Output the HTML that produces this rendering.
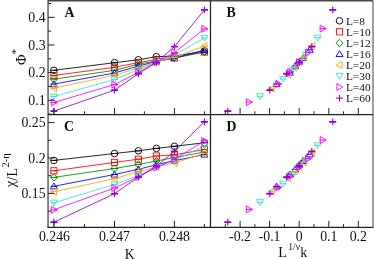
<!DOCTYPE html><html><head><meta charset="utf-8"><style>html,body{margin:0;padding:0;background:#fff;width:374px;height:259px;overflow:hidden}</style></head><body><svg width="374" height="259" viewBox="0 0 374 259" style="display:block;position:absolute;left:0;top:0;will-change:transform">
<rect width="374" height="259" fill="#fff"/>
<defs><clipPath id="ca"><rect x="48.05" y="0.75" width="162.45" height="113.75"/></clipPath><clipPath id="cc"><rect x="48.05" y="114.5" width="162.45" height="112.80000000000001"/></clipPath></defs>
<polyline points="53.9,70.3 114.5,62.7 138.4,59.8 156.4,56.7 174.4,56.1 204.4,51.1" fill="none" stroke="#000000" stroke-width="0.85"/>
<polyline points="53.9,75.5 114.5,67.3 138.4,62.6 156.4,59.5 174.4,57.3 204.4,52.0" fill="none" stroke="#ff0000" stroke-width="0.85"/>
<polyline points="53.9,79.2 114.5,70.3 138.4,64.2 156.4,60.9 174.4,58.1 204.4,52.0" fill="none" stroke="#008b00" stroke-width="0.85"/>
<polyline points="53.9,84.1 114.5,73.0 138.4,66.0 156.4,61.5 174.4,58.3 204.4,50.0" fill="none" stroke="#0000ff" stroke-width="0.85"/>
<polyline points="53.9,88.2 114.5,75.2 138.4,68.2 156.4,62.0 174.4,57.5 204.4,46.0" fill="none" stroke="#ffa500" stroke-width="0.85"/>
<polyline points="53.9,96.6 114.5,79.5 138.4,69.8 156.4,62.0 174.4,55.1 204.4,38.0" fill="none" stroke="#40e0d0" stroke-width="0.85"/>
<polyline points="53.9,102.5 114.5,84.5 138.4,72.3 156.4,62.1 174.4,52.7 204.4,28.9" fill="none" stroke="#ff00ff" stroke-width="0.85"/>
<polyline points="53.9,111.1 114.5,90.2 138.4,73.7 156.4,62.5 174.4,46.6 204.4,9.9" fill="none" stroke="#9400d3" stroke-width="0.85"/>
<circle cx="53.9" cy="70.3" r="3.3" fill="none" stroke="#000000" stroke-width="0.9"/><path d="M50.5 70.3H57.3" fill="none" stroke="#000000" stroke-width="1"/>
<circle cx="114.5" cy="62.7" r="3.3" fill="none" stroke="#000000" stroke-width="0.9"/><path d="M111.0 62.7H117.9" fill="none" stroke="#000000" stroke-width="1"/>
<circle cx="138.4" cy="59.8" r="3.3" fill="none" stroke="#000000" stroke-width="0.9"/><path d="M135.0 59.8H141.8" fill="none" stroke="#000000" stroke-width="1"/>
<circle cx="156.4" cy="56.7" r="3.3" fill="none" stroke="#000000" stroke-width="0.9"/><path d="M153.0 56.7H159.8" fill="none" stroke="#000000" stroke-width="1"/>
<circle cx="174.4" cy="56.1" r="3.3" fill="none" stroke="#000000" stroke-width="0.9"/><path d="M171.0 56.1H177.8" fill="none" stroke="#000000" stroke-width="1"/>
<circle cx="204.4" cy="51.1" r="3.3" fill="none" stroke="#000000" stroke-width="0.9"/><path d="M201.0 51.1H207.8" fill="none" stroke="#000000" stroke-width="1"/>
<rect x="50.8" y="72.4" width="6.2" height="6.2" fill="none" stroke="#ff0000" stroke-width="0.9"/><path d="M50.5 75.5H57.3" fill="none" stroke="#ff0000" stroke-width="1"/>
<rect x="111.4" y="64.2" width="6.2" height="6.2" fill="none" stroke="#ff0000" stroke-width="0.9"/><path d="M111.0 67.3H117.9" fill="none" stroke="#ff0000" stroke-width="1"/>
<rect x="135.3" y="59.5" width="6.2" height="6.2" fill="none" stroke="#ff0000" stroke-width="0.9"/><path d="M135.0 62.6H141.8" fill="none" stroke="#ff0000" stroke-width="1"/>
<rect x="153.3" y="56.4" width="6.2" height="6.2" fill="none" stroke="#ff0000" stroke-width="0.9"/><path d="M153.0 59.5H159.8" fill="none" stroke="#ff0000" stroke-width="1"/>
<rect x="171.3" y="54.2" width="6.2" height="6.2" fill="none" stroke="#ff0000" stroke-width="0.9"/><path d="M171.0 57.3H177.8" fill="none" stroke="#ff0000" stroke-width="1"/>
<rect x="201.3" y="48.9" width="6.2" height="6.2" fill="none" stroke="#ff0000" stroke-width="0.9"/><path d="M201.0 52.0H207.8" fill="none" stroke="#ff0000" stroke-width="1"/>
<path d="M50.3 79.2L53.9 75.6L57.5 79.2L53.9 82.8Z" fill="none" stroke="#008b00" stroke-width="0.9"/><path d="M50.5 79.2H57.3" fill="none" stroke="#008b00" stroke-width="1"/>
<path d="M110.9 70.3L114.5 66.7L118.0 70.3L114.5 73.9Z" fill="none" stroke="#008b00" stroke-width="0.9"/><path d="M111.0 70.3H117.9" fill="none" stroke="#008b00" stroke-width="1"/>
<path d="M134.8 64.2L138.4 60.6L142.0 64.2L138.4 67.8Z" fill="none" stroke="#008b00" stroke-width="0.9"/><path d="M135.0 64.2H141.8" fill="none" stroke="#008b00" stroke-width="1"/>
<path d="M152.8 60.9L156.4 57.3L160.0 60.9L156.4 64.5Z" fill="none" stroke="#008b00" stroke-width="0.9"/><path d="M153.0 60.9H159.8" fill="none" stroke="#008b00" stroke-width="1"/>
<path d="M170.8 58.1L174.4 54.5L178.0 58.1L174.4 61.7Z" fill="none" stroke="#008b00" stroke-width="0.9"/><path d="M171.0 58.1H177.8" fill="none" stroke="#008b00" stroke-width="1"/>
<path d="M200.8 52.0L204.4 48.4L208.0 52.0L204.4 55.6Z" fill="none" stroke="#008b00" stroke-width="0.9"/><path d="M201.0 52.0H207.8" fill="none" stroke="#008b00" stroke-width="1"/>
<path d="M50.4 86.7L57.4 86.7L53.9 80.8Z" fill="none" stroke="#0000ff" stroke-width="0.9"/><path d="M50.5 84.1H57.3" fill="none" stroke="#0000ff" stroke-width="1"/>
<path d="M111.0 75.6L118.0 75.6L114.5 69.7Z" fill="none" stroke="#0000ff" stroke-width="0.9"/><path d="M111.0 73.0H117.9" fill="none" stroke="#0000ff" stroke-width="1"/>
<path d="M134.9 68.6L141.9 68.6L138.4 62.7Z" fill="none" stroke="#0000ff" stroke-width="0.9"/><path d="M135.0 66.0H141.8" fill="none" stroke="#0000ff" stroke-width="1"/>
<path d="M152.9 64.1L159.9 64.1L156.4 58.2Z" fill="none" stroke="#0000ff" stroke-width="0.9"/><path d="M153.0 61.5H159.8" fill="none" stroke="#0000ff" stroke-width="1"/>
<path d="M170.9 60.9L177.9 60.9L174.4 55.0Z" fill="none" stroke="#0000ff" stroke-width="0.9"/><path d="M171.0 58.3H177.8" fill="none" stroke="#0000ff" stroke-width="1"/>
<path d="M200.9 52.6L207.9 52.6L204.4 46.7Z" fill="none" stroke="#0000ff" stroke-width="0.9"/><path d="M201.0 50.0H207.8" fill="none" stroke="#0000ff" stroke-width="1"/>
<path d="M56.5 84.7L56.5 91.7L50.6 88.2Z" fill="none" stroke="#ffa500" stroke-width="0.9"/><path d="M50.5 88.2H57.3" fill="none" stroke="#ffa500" stroke-width="1"/>
<path d="M117.0 71.7L117.0 78.7L111.2 75.2Z" fill="none" stroke="#ffa500" stroke-width="0.9"/><path d="M111.0 75.2H117.9" fill="none" stroke="#ffa500" stroke-width="1"/>
<path d="M141.0 64.7L141.0 71.7L135.1 68.2Z" fill="none" stroke="#ffa500" stroke-width="0.9"/><path d="M135.0 68.2H141.8" fill="none" stroke="#ffa500" stroke-width="1"/>
<path d="M159.0 58.5L159.0 65.5L153.1 62.0Z" fill="none" stroke="#ffa500" stroke-width="0.9"/><path d="M153.0 62.0H159.8" fill="none" stroke="#ffa500" stroke-width="1"/>
<path d="M177.0 54.0L177.0 61.0L171.1 57.5Z" fill="none" stroke="#ffa500" stroke-width="0.9"/><path d="M171.0 57.5H177.8" fill="none" stroke="#ffa500" stroke-width="1"/>
<path d="M207.0 42.5L207.0 49.5L201.1 46.0Z" fill="none" stroke="#ffa500" stroke-width="0.9"/><path d="M201.0 46.0H207.8" fill="none" stroke="#ffa500" stroke-width="1"/>
<path d="M50.4 94.0L57.4 94.0L53.9 99.9Z" fill="none" stroke="#40e0d0" stroke-width="0.9"/><path d="M50.5 96.6H57.3" fill="none" stroke="#40e0d0" stroke-width="1"/>
<path d="M111.0 76.9L118.0 76.9L114.5 82.8Z" fill="none" stroke="#40e0d0" stroke-width="0.9"/><path d="M111.0 79.5H117.9" fill="none" stroke="#40e0d0" stroke-width="1"/>
<path d="M134.9 67.2L141.9 67.2L138.4 73.1Z" fill="none" stroke="#40e0d0" stroke-width="0.9"/><path d="M135.0 69.8H141.8" fill="none" stroke="#40e0d0" stroke-width="1"/>
<path d="M152.9 59.4L159.9 59.4L156.4 65.3Z" fill="none" stroke="#40e0d0" stroke-width="0.9"/><path d="M153.0 62.0H159.8" fill="none" stroke="#40e0d0" stroke-width="1"/>
<path d="M170.9 52.5L177.9 52.5L174.4 58.4Z" fill="none" stroke="#40e0d0" stroke-width="0.9"/><path d="M171.0 55.1H177.8" fill="none" stroke="#40e0d0" stroke-width="1"/>
<path d="M200.9 35.4L207.9 35.4L204.4 41.3Z" fill="none" stroke="#40e0d0" stroke-width="0.9"/><path d="M201.0 38.0H207.8" fill="none" stroke="#40e0d0" stroke-width="1"/>
<path d="M51.3 99.0L51.3 106.0L57.2 102.5Z" fill="none" stroke="#ff00ff" stroke-width="0.9"/><path d="M50.5 102.5H57.3" fill="none" stroke="#ff00ff" stroke-width="1"/>
<path d="M111.9 81.0L111.9 88.0L117.8 84.5Z" fill="none" stroke="#ff00ff" stroke-width="0.9"/><path d="M111.0 84.5H117.9" fill="none" stroke="#ff00ff" stroke-width="1"/>
<path d="M135.8 68.8L135.8 75.8L141.8 72.3Z" fill="none" stroke="#ff00ff" stroke-width="0.9"/><path d="M135.0 72.3H141.8" fill="none" stroke="#ff00ff" stroke-width="1"/>
<path d="M153.8 58.6L153.8 65.6L159.8 62.1Z" fill="none" stroke="#ff00ff" stroke-width="0.9"/><path d="M153.0 62.1H159.8" fill="none" stroke="#ff00ff" stroke-width="1"/>
<path d="M171.8 49.2L171.8 56.2L177.8 52.7Z" fill="none" stroke="#ff00ff" stroke-width="0.9"/><path d="M171.0 52.7H177.8" fill="none" stroke="#ff00ff" stroke-width="1"/>
<path d="M201.8 25.4L201.8 32.4L207.8 28.9Z" fill="none" stroke="#ff00ff" stroke-width="0.9"/><path d="M201.0 28.9H207.8" fill="none" stroke="#ff00ff" stroke-width="1"/>
<path d="M50.5 111.1H57.3" fill="none" stroke="#9400d3" stroke-width="1.7"/><path d="M53.9 107.7V114.5" fill="none" stroke="#9400d3" stroke-width="1.1"/><path d="M50.5 111.1H57.3" fill="none" stroke="#9400d3" stroke-width="1"/>
<path d="M111.0 90.2H117.9" fill="none" stroke="#9400d3" stroke-width="1.7"/><path d="M114.5 86.8V93.6" fill="none" stroke="#9400d3" stroke-width="1.1"/><path d="M111.0 90.2H117.9" fill="none" stroke="#9400d3" stroke-width="1"/>
<path d="M135.0 73.7H141.8" fill="none" stroke="#9400d3" stroke-width="1.7"/><path d="M138.4 70.3V77.1" fill="none" stroke="#9400d3" stroke-width="1.1"/><path d="M135.0 73.7H141.8" fill="none" stroke="#9400d3" stroke-width="1"/>
<path d="M153.0 62.5H159.8" fill="none" stroke="#9400d3" stroke-width="1.7"/><path d="M156.4 59.1V65.9" fill="none" stroke="#9400d3" stroke-width="1.1"/><path d="M153.0 62.5H159.8" fill="none" stroke="#9400d3" stroke-width="1"/>
<path d="M171.0 46.6H177.8" fill="none" stroke="#9400d3" stroke-width="1.7"/><path d="M174.4 43.2V50.0" fill="none" stroke="#9400d3" stroke-width="1.1"/><path d="M171.0 46.6H177.8" fill="none" stroke="#9400d3" stroke-width="1"/>
<path d="M201.0 9.9H207.8" fill="none" stroke="#9400d3" stroke-width="1.7"/><path d="M204.4 6.5V13.3" fill="none" stroke="#9400d3" stroke-width="1.1"/><path d="M201.0 9.9H207.8" fill="none" stroke="#9400d3" stroke-width="1"/>
<polyline points="53.9,160.4 114.5,153.5 138.4,150.8 156.4,148.4 174.4,146.3 204.4,142.8" fill="none" stroke="#000000" stroke-width="0.85"/>
<polyline points="53.9,170.8 114.5,162.4 138.4,159.2 156.4,156.0 174.4,154.9 204.4,149.5" fill="none" stroke="#ff0000" stroke-width="0.85"/>
<polyline points="53.9,177.4 114.5,168.5 138.4,164.4 156.4,161.0 174.4,157.5 204.4,152.0" fill="none" stroke="#008b00" stroke-width="0.85"/>
<polyline points="53.9,186.3 114.5,174.5 138.4,169.3 156.4,164.7 174.4,160.8 204.4,154.5" fill="none" stroke="#0000ff" stroke-width="0.85"/>
<polyline points="53.9,191.7 114.5,178.7 138.4,171.5 156.4,167.0 174.4,163.0 204.4,153.3" fill="none" stroke="#ffa500" stroke-width="0.85"/>
<polyline points="53.9,202.7 114.5,184.5 138.4,175.7 156.4,167.5 174.4,160.5 204.4,145.9" fill="none" stroke="#40e0d0" stroke-width="0.85"/>
<polyline points="53.9,209.8 114.5,188.0 138.4,176.8 156.4,167.5 174.4,159.3 204.4,141.0" fill="none" stroke="#ff00ff" stroke-width="0.85"/>
<polyline points="53.9,222.2 114.5,193.7 138.4,177.2 156.4,166.1 174.4,151.4 204.4,121.8" fill="none" stroke="#9400d3" stroke-width="0.85"/>
<circle cx="53.9" cy="160.4" r="3.3" fill="none" stroke="#000000" stroke-width="0.9"/><path d="M50.5 160.4H57.3" fill="none" stroke="#000000" stroke-width="1"/>
<circle cx="114.5" cy="153.5" r="3.3" fill="none" stroke="#000000" stroke-width="0.9"/><path d="M111.0 153.5H117.9" fill="none" stroke="#000000" stroke-width="1"/>
<circle cx="138.4" cy="150.8" r="3.3" fill="none" stroke="#000000" stroke-width="0.9"/><path d="M135.0 150.8H141.8" fill="none" stroke="#000000" stroke-width="1"/>
<circle cx="156.4" cy="148.4" r="3.3" fill="none" stroke="#000000" stroke-width="0.9"/><path d="M153.0 148.4H159.8" fill="none" stroke="#000000" stroke-width="1"/>
<circle cx="174.4" cy="146.3" r="3.3" fill="none" stroke="#000000" stroke-width="0.9"/><path d="M171.0 146.3H177.8" fill="none" stroke="#000000" stroke-width="1"/>
<circle cx="204.4" cy="142.8" r="3.3" fill="none" stroke="#000000" stroke-width="0.9"/><path d="M201.0 142.8H207.8" fill="none" stroke="#000000" stroke-width="1"/>
<rect x="50.8" y="167.7" width="6.2" height="6.2" fill="none" stroke="#ff0000" stroke-width="0.9"/><path d="M50.5 170.8H57.3" fill="none" stroke="#ff0000" stroke-width="1"/>
<rect x="111.4" y="159.3" width="6.2" height="6.2" fill="none" stroke="#ff0000" stroke-width="0.9"/><path d="M111.0 162.4H117.9" fill="none" stroke="#ff0000" stroke-width="1"/>
<rect x="135.3" y="156.1" width="6.2" height="6.2" fill="none" stroke="#ff0000" stroke-width="0.9"/><path d="M135.0 159.2H141.8" fill="none" stroke="#ff0000" stroke-width="1"/>
<rect x="153.3" y="152.9" width="6.2" height="6.2" fill="none" stroke="#ff0000" stroke-width="0.9"/><path d="M153.0 156.0H159.8" fill="none" stroke="#ff0000" stroke-width="1"/>
<rect x="171.3" y="151.8" width="6.2" height="6.2" fill="none" stroke="#ff0000" stroke-width="0.9"/><path d="M171.0 154.9H177.8" fill="none" stroke="#ff0000" stroke-width="1"/>
<rect x="201.3" y="146.4" width="6.2" height="6.2" fill="none" stroke="#ff0000" stroke-width="0.9"/><path d="M201.0 149.5H207.8" fill="none" stroke="#ff0000" stroke-width="1"/>
<path d="M50.3 177.4L53.9 173.8L57.5 177.4L53.9 181.0Z" fill="none" stroke="#008b00" stroke-width="0.9"/><path d="M50.5 177.4H57.3" fill="none" stroke="#008b00" stroke-width="1"/>
<path d="M110.9 168.5L114.5 164.9L118.0 168.5L114.5 172.1Z" fill="none" stroke="#008b00" stroke-width="0.9"/><path d="M111.0 168.5H117.9" fill="none" stroke="#008b00" stroke-width="1"/>
<path d="M134.8 164.4L138.4 160.8L142.0 164.4L138.4 168.0Z" fill="none" stroke="#008b00" stroke-width="0.9"/><path d="M135.0 164.4H141.8" fill="none" stroke="#008b00" stroke-width="1"/>
<path d="M152.8 161.0L156.4 157.4L160.0 161.0L156.4 164.6Z" fill="none" stroke="#008b00" stroke-width="0.9"/><path d="M153.0 161.0H159.8" fill="none" stroke="#008b00" stroke-width="1"/>
<path d="M170.8 157.5L174.4 153.9L178.0 157.5L174.4 161.1Z" fill="none" stroke="#008b00" stroke-width="0.9"/><path d="M171.0 157.5H177.8" fill="none" stroke="#008b00" stroke-width="1"/>
<path d="M200.8 152.0L204.4 148.4L208.0 152.0L204.4 155.6Z" fill="none" stroke="#008b00" stroke-width="0.9"/><path d="M201.0 152.0H207.8" fill="none" stroke="#008b00" stroke-width="1"/>
<path d="M50.4 188.9L57.4 188.9L53.9 183.0Z" fill="none" stroke="#0000ff" stroke-width="0.9"/><path d="M50.5 186.3H57.3" fill="none" stroke="#0000ff" stroke-width="1"/>
<path d="M111.0 177.1L118.0 177.1L114.5 171.2Z" fill="none" stroke="#0000ff" stroke-width="0.9"/><path d="M111.0 174.5H117.9" fill="none" stroke="#0000ff" stroke-width="1"/>
<path d="M134.9 171.9L141.9 171.9L138.4 166.0Z" fill="none" stroke="#0000ff" stroke-width="0.9"/><path d="M135.0 169.3H141.8" fill="none" stroke="#0000ff" stroke-width="1"/>
<path d="M152.9 167.3L159.9 167.3L156.4 161.4Z" fill="none" stroke="#0000ff" stroke-width="0.9"/><path d="M153.0 164.7H159.8" fill="none" stroke="#0000ff" stroke-width="1"/>
<path d="M170.9 163.4L177.9 163.4L174.4 157.5Z" fill="none" stroke="#0000ff" stroke-width="0.9"/><path d="M171.0 160.8H177.8" fill="none" stroke="#0000ff" stroke-width="1"/>
<path d="M200.9 157.1L207.9 157.1L204.4 151.2Z" fill="none" stroke="#0000ff" stroke-width="0.9"/><path d="M201.0 154.5H207.8" fill="none" stroke="#0000ff" stroke-width="1"/>
<path d="M56.5 188.2L56.5 195.2L50.6 191.7Z" fill="none" stroke="#ffa500" stroke-width="0.9"/><path d="M50.5 191.7H57.3" fill="none" stroke="#ffa500" stroke-width="1"/>
<path d="M117.0 175.2L117.0 182.2L111.2 178.7Z" fill="none" stroke="#ffa500" stroke-width="0.9"/><path d="M111.0 178.7H117.9" fill="none" stroke="#ffa500" stroke-width="1"/>
<path d="M141.0 168.0L141.0 175.0L135.1 171.5Z" fill="none" stroke="#ffa500" stroke-width="0.9"/><path d="M135.0 171.5H141.8" fill="none" stroke="#ffa500" stroke-width="1"/>
<path d="M159.0 163.5L159.0 170.5L153.1 167.0Z" fill="none" stroke="#ffa500" stroke-width="0.9"/><path d="M153.0 167.0H159.8" fill="none" stroke="#ffa500" stroke-width="1"/>
<path d="M177.0 159.5L177.0 166.5L171.1 163.0Z" fill="none" stroke="#ffa500" stroke-width="0.9"/><path d="M171.0 163.0H177.8" fill="none" stroke="#ffa500" stroke-width="1"/>
<path d="M207.0 149.8L207.0 156.8L201.1 153.3Z" fill="none" stroke="#ffa500" stroke-width="0.9"/><path d="M201.0 153.3H207.8" fill="none" stroke="#ffa500" stroke-width="1"/>
<path d="M50.4 200.1L57.4 200.1L53.9 206.0Z" fill="none" stroke="#40e0d0" stroke-width="0.9"/><path d="M50.5 202.7H57.3" fill="none" stroke="#40e0d0" stroke-width="1"/>
<path d="M111.0 181.9L118.0 181.9L114.5 187.8Z" fill="none" stroke="#40e0d0" stroke-width="0.9"/><path d="M111.0 184.5H117.9" fill="none" stroke="#40e0d0" stroke-width="1"/>
<path d="M134.9 173.1L141.9 173.1L138.4 179.0Z" fill="none" stroke="#40e0d0" stroke-width="0.9"/><path d="M135.0 175.7H141.8" fill="none" stroke="#40e0d0" stroke-width="1"/>
<path d="M152.9 164.9L159.9 164.9L156.4 170.8Z" fill="none" stroke="#40e0d0" stroke-width="0.9"/><path d="M153.0 167.5H159.8" fill="none" stroke="#40e0d0" stroke-width="1"/>
<path d="M170.9 157.9L177.9 157.9L174.4 163.8Z" fill="none" stroke="#40e0d0" stroke-width="0.9"/><path d="M171.0 160.5H177.8" fill="none" stroke="#40e0d0" stroke-width="1"/>
<path d="M200.9 143.3L207.9 143.3L204.4 149.2Z" fill="none" stroke="#40e0d0" stroke-width="0.9"/><path d="M201.0 145.9H207.8" fill="none" stroke="#40e0d0" stroke-width="1"/>
<path d="M51.3 206.3L51.3 213.3L57.2 209.8Z" fill="none" stroke="#ff00ff" stroke-width="0.9"/><path d="M50.5 209.8H57.3" fill="none" stroke="#ff00ff" stroke-width="1"/>
<path d="M111.9 184.5L111.9 191.5L117.8 188.0Z" fill="none" stroke="#ff00ff" stroke-width="0.9"/><path d="M111.0 188.0H117.9" fill="none" stroke="#ff00ff" stroke-width="1"/>
<path d="M135.8 173.3L135.8 180.3L141.8 176.8Z" fill="none" stroke="#ff00ff" stroke-width="0.9"/><path d="M135.0 176.8H141.8" fill="none" stroke="#ff00ff" stroke-width="1"/>
<path d="M153.8 164.0L153.8 171.0L159.8 167.5Z" fill="none" stroke="#ff00ff" stroke-width="0.9"/><path d="M153.0 167.5H159.8" fill="none" stroke="#ff00ff" stroke-width="1"/>
<path d="M171.8 155.8L171.8 162.8L177.8 159.3Z" fill="none" stroke="#ff00ff" stroke-width="0.9"/><path d="M171.0 159.3H177.8" fill="none" stroke="#ff00ff" stroke-width="1"/>
<path d="M201.8 137.5L201.8 144.5L207.8 141.0Z" fill="none" stroke="#ff00ff" stroke-width="0.9"/><path d="M201.0 141.0H207.8" fill="none" stroke="#ff00ff" stroke-width="1"/>
<path d="M50.5 222.2H57.3" fill="none" stroke="#9400d3" stroke-width="1.7"/><path d="M53.9 218.8V225.6" fill="none" stroke="#9400d3" stroke-width="1.1"/><path d="M50.5 222.2H57.3" fill="none" stroke="#9400d3" stroke-width="1"/>
<path d="M111.0 193.7H117.9" fill="none" stroke="#9400d3" stroke-width="1.7"/><path d="M114.5 190.3V197.1" fill="none" stroke="#9400d3" stroke-width="1.1"/><path d="M111.0 193.7H117.9" fill="none" stroke="#9400d3" stroke-width="1"/>
<path d="M135.0 177.2H141.8" fill="none" stroke="#9400d3" stroke-width="1.7"/><path d="M138.4 173.8V180.6" fill="none" stroke="#9400d3" stroke-width="1.1"/><path d="M135.0 177.2H141.8" fill="none" stroke="#9400d3" stroke-width="1"/>
<path d="M153.0 166.1H159.8" fill="none" stroke="#9400d3" stroke-width="1.7"/><path d="M156.4 162.7V169.5" fill="none" stroke="#9400d3" stroke-width="1.1"/><path d="M153.0 166.1H159.8" fill="none" stroke="#9400d3" stroke-width="1"/>
<path d="M171.0 151.4H177.8" fill="none" stroke="#9400d3" stroke-width="1.7"/><path d="M174.4 148.0V154.8" fill="none" stroke="#9400d3" stroke-width="1.1"/><path d="M171.0 151.4H177.8" fill="none" stroke="#9400d3" stroke-width="1"/>
<path d="M201.0 121.8H207.8" fill="none" stroke="#9400d3" stroke-width="1.7"/><path d="M204.4 118.4V125.2" fill="none" stroke="#9400d3" stroke-width="1.1"/><path d="M201.0 121.8H207.8" fill="none" stroke="#9400d3" stroke-width="1"/>
<path d="M273.1 86.6L280.1 86.6L276.6 80.7Z" fill="none" stroke="#0000ff" stroke-width="0.9"/><path d="M273.2 84.0H280.0" fill="none" stroke="#0000ff" stroke-width="1"/>
<path d="M286.4 75.2L293.4 75.2L289.9 69.3Z" fill="none" stroke="#0000ff" stroke-width="0.9"/><path d="M286.5 72.6H293.3" fill="none" stroke="#0000ff" stroke-width="1"/>
<path d="M291.7 68.6L298.7 68.6L295.2 62.7Z" fill="none" stroke="#0000ff" stroke-width="0.9"/><path d="M291.8 66.0H298.6" fill="none" stroke="#0000ff" stroke-width="1"/>
<path d="M295.7 64.3L302.7 64.3L299.2 58.4Z" fill="none" stroke="#0000ff" stroke-width="0.9"/><path d="M295.8 61.7H302.6" fill="none" stroke="#0000ff" stroke-width="1"/>
<path d="M299.7 60.7L306.7 60.7L303.2 54.8Z" fill="none" stroke="#0000ff" stroke-width="0.9"/><path d="M299.8 58.1H306.6" fill="none" stroke="#0000ff" stroke-width="1"/>
<path d="M306.3 52.4L313.3 52.4L309.8 46.5Z" fill="none" stroke="#0000ff" stroke-width="0.9"/><path d="M306.4 49.8H313.2" fill="none" stroke="#0000ff" stroke-width="1"/>
<path d="M274.3 84.7L274.3 91.7L268.4 88.2Z" fill="none" stroke="#ffa500" stroke-width="0.9"/><path d="M268.3 88.2H275.1" fill="none" stroke="#ffa500" stroke-width="1"/>
<path d="M290.5 71.2L290.5 78.2L284.6 74.7Z" fill="none" stroke="#ffa500" stroke-width="0.9"/><path d="M284.5 74.7H291.3" fill="none" stroke="#ffa500" stroke-width="1"/>
<path d="M297.0 64.4L297.0 71.4L291.1 67.9Z" fill="none" stroke="#ffa500" stroke-width="0.9"/><path d="M291.0 67.9H297.8" fill="none" stroke="#ffa500" stroke-width="1"/>
<path d="M301.8 58.6L301.8 65.6L295.9 62.1Z" fill="none" stroke="#ffa500" stroke-width="0.9"/><path d="M295.8 62.1H302.6" fill="none" stroke="#ffa500" stroke-width="1"/>
<path d="M306.6 53.8L306.6 60.8L300.7 57.3Z" fill="none" stroke="#ffa500" stroke-width="0.9"/><path d="M300.6 57.3H307.4" fill="none" stroke="#ffa500" stroke-width="1"/>
<path d="M314.7 42.5L314.7 49.5L308.8 46.0Z" fill="none" stroke="#ffa500" stroke-width="0.9"/><path d="M308.7 46.0H315.5" fill="none" stroke="#ffa500" stroke-width="1"/>
<path d="M256.6 93.7L263.6 93.7L260.1 99.6Z" fill="none" stroke="#40e0d0" stroke-width="0.9"/><path d="M256.7 96.3H263.5" fill="none" stroke="#40e0d0" stroke-width="1"/>
<path d="M279.6 76.4L286.6 76.4L283.1 82.3Z" fill="none" stroke="#40e0d0" stroke-width="0.9"/><path d="M279.7 79.0H286.5" fill="none" stroke="#40e0d0" stroke-width="1"/>
<path d="M288.8 67.0L295.8 67.0L292.3 72.9Z" fill="none" stroke="#40e0d0" stroke-width="0.9"/><path d="M288.9 69.6H295.7" fill="none" stroke="#40e0d0" stroke-width="1"/>
<path d="M295.7 59.5L302.7 59.5L299.2 65.4Z" fill="none" stroke="#40e0d0" stroke-width="0.9"/><path d="M295.8 62.1H302.6" fill="none" stroke="#40e0d0" stroke-width="1"/>
<path d="M302.6 52.2L309.6 52.2L306.1 58.1Z" fill="none" stroke="#40e0d0" stroke-width="0.9"/><path d="M302.7 54.8H309.5" fill="none" stroke="#40e0d0" stroke-width="1"/>
<path d="M314.1 35.1L321.1 35.1L317.6 41.0Z" fill="none" stroke="#40e0d0" stroke-width="0.9"/><path d="M314.2 37.7H321.0" fill="none" stroke="#40e0d0" stroke-width="1"/>
<path d="M246.4 98.6L246.4 105.6L252.3 102.1Z" fill="none" stroke="#ff00ff" stroke-width="0.9"/><path d="M245.6 102.1H252.4" fill="none" stroke="#ff00ff" stroke-width="1"/>
<path d="M275.9 80.4L275.9 87.4L281.8 83.9Z" fill="none" stroke="#ff00ff" stroke-width="0.9"/><path d="M275.1 83.9H281.9" fill="none" stroke="#ff00ff" stroke-width="1"/>
<path d="M287.7 68.4L287.7 75.4L293.6 71.9Z" fill="none" stroke="#ff00ff" stroke-width="0.9"/><path d="M286.9 71.9H293.7" fill="none" stroke="#ff00ff" stroke-width="1"/>
<path d="M296.6 58.7L296.6 65.7L302.5 62.2Z" fill="none" stroke="#ff00ff" stroke-width="0.9"/><path d="M295.8 62.2H302.6" fill="none" stroke="#ff00ff" stroke-width="1"/>
<path d="M305.5 48.9L305.5 55.9L311.4 52.4Z" fill="none" stroke="#ff00ff" stroke-width="0.9"/><path d="M304.7 52.4H311.5" fill="none" stroke="#ff00ff" stroke-width="1"/>
<path d="M320.2 25.1L320.2 32.1L326.1 28.6Z" fill="none" stroke="#ff00ff" stroke-width="0.9"/><path d="M319.4 28.6H326.2" fill="none" stroke="#ff00ff" stroke-width="1"/>
<path d="M224.4 111.1H231.2" fill="none" stroke="#9400d3" stroke-width="1.7"/><path d="M227.8 107.7V114.5" fill="none" stroke="#9400d3" stroke-width="1.1"/><path d="M224.4 111.1H231.2" fill="none" stroke="#9400d3" stroke-width="1"/>
<path d="M266.4 90.2H273.2" fill="none" stroke="#9400d3" stroke-width="1.7"/><path d="M269.8 86.8V93.6" fill="none" stroke="#9400d3" stroke-width="1.1"/><path d="M266.4 90.2H273.2" fill="none" stroke="#9400d3" stroke-width="1"/>
<path d="M283.2 73.7H290.0" fill="none" stroke="#9400d3" stroke-width="1.7"/><path d="M286.6 70.3V77.1" fill="none" stroke="#9400d3" stroke-width="1.1"/><path d="M283.2 73.7H290.0" fill="none" stroke="#9400d3" stroke-width="1"/>
<path d="M295.8 62.5H302.6" fill="none" stroke="#9400d3" stroke-width="1.7"/><path d="M299.2 59.1V65.9" fill="none" stroke="#9400d3" stroke-width="1.1"/><path d="M295.8 62.5H302.6" fill="none" stroke="#9400d3" stroke-width="1"/>
<path d="M308.4 46.6H315.2" fill="none" stroke="#9400d3" stroke-width="1.7"/><path d="M311.8 43.2V50.0" fill="none" stroke="#9400d3" stroke-width="1.1"/><path d="M308.4 46.6H315.2" fill="none" stroke="#9400d3" stroke-width="1"/>
<path d="M329.4 9.9H336.2" fill="none" stroke="#9400d3" stroke-width="1.7"/><path d="M332.8 6.5V13.3" fill="none" stroke="#9400d3" stroke-width="1.1"/><path d="M329.4 9.9H336.2" fill="none" stroke="#9400d3" stroke-width="1"/>
<path d="M273.1 189.0L280.1 189.0L276.6 183.1Z" fill="none" stroke="#0000ff" stroke-width="0.9"/><path d="M273.2 186.4H280.0" fill="none" stroke="#0000ff" stroke-width="1"/>
<path d="M286.4 177.1L293.4 177.1L289.9 171.2Z" fill="none" stroke="#0000ff" stroke-width="0.9"/><path d="M286.5 174.5H293.3" fill="none" stroke="#0000ff" stroke-width="1"/>
<path d="M291.7 172.0L298.7 172.0L295.2 166.1Z" fill="none" stroke="#0000ff" stroke-width="0.9"/><path d="M291.8 169.4H298.6" fill="none" stroke="#0000ff" stroke-width="1"/>
<path d="M295.7 167.6L302.7 167.6L299.2 161.7Z" fill="none" stroke="#0000ff" stroke-width="0.9"/><path d="M295.8 165.0H302.6" fill="none" stroke="#0000ff" stroke-width="1"/>
<path d="M299.7 163.5L306.7 163.5L303.2 157.6Z" fill="none" stroke="#0000ff" stroke-width="0.9"/><path d="M299.8 160.9H306.6" fill="none" stroke="#0000ff" stroke-width="1"/>
<path d="M306.3 156.9L313.3 156.9L309.8 151.0Z" fill="none" stroke="#0000ff" stroke-width="0.9"/><path d="M306.4 154.3H313.2" fill="none" stroke="#0000ff" stroke-width="1"/>
<path d="M274.3 188.2L274.3 195.2L268.4 191.7Z" fill="none" stroke="#ffa500" stroke-width="0.9"/><path d="M268.3 191.7H275.1" fill="none" stroke="#ffa500" stroke-width="1"/>
<path d="M290.5 174.7L290.5 181.7L284.6 178.2Z" fill="none" stroke="#ffa500" stroke-width="0.9"/><path d="M284.5 178.2H291.3" fill="none" stroke="#ffa500" stroke-width="1"/>
<path d="M297.0 167.8L297.0 174.8L291.1 171.3Z" fill="none" stroke="#ffa500" stroke-width="0.9"/><path d="M291.0 171.3H297.8" fill="none" stroke="#ffa500" stroke-width="1"/>
<path d="M301.8 163.3L301.8 170.3L295.9 166.8Z" fill="none" stroke="#ffa500" stroke-width="0.9"/><path d="M295.8 166.8H302.6" fill="none" stroke="#ffa500" stroke-width="1"/>
<path d="M306.6 159.0L306.6 166.0L300.7 162.5Z" fill="none" stroke="#ffa500" stroke-width="0.9"/><path d="M300.6 162.5H307.4" fill="none" stroke="#ffa500" stroke-width="1"/>
<path d="M314.7 149.3L314.7 156.3L308.8 152.8Z" fill="none" stroke="#ffa500" stroke-width="0.9"/><path d="M308.7 152.8H315.5" fill="none" stroke="#ffa500" stroke-width="1"/>
<path d="M256.6 199.6L263.6 199.6L260.1 205.5Z" fill="none" stroke="#40e0d0" stroke-width="0.9"/><path d="M256.7 202.2H263.5" fill="none" stroke="#40e0d0" stroke-width="1"/>
<path d="M279.6 181.1L286.6 181.1L283.1 187.0Z" fill="none" stroke="#40e0d0" stroke-width="0.9"/><path d="M279.7 183.7H286.5" fill="none" stroke="#40e0d0" stroke-width="1"/>
<path d="M288.8 172.4L295.8 172.4L292.3 178.3Z" fill="none" stroke="#40e0d0" stroke-width="0.9"/><path d="M288.9 175.0H295.7" fill="none" stroke="#40e0d0" stroke-width="1"/>
<path d="M295.7 164.6L302.7 164.6L299.2 170.5Z" fill="none" stroke="#40e0d0" stroke-width="0.9"/><path d="M295.8 167.2H302.6" fill="none" stroke="#40e0d0" stroke-width="1"/>
<path d="M302.6 157.4L309.6 157.4L306.1 163.3Z" fill="none" stroke="#40e0d0" stroke-width="0.9"/><path d="M302.7 160.0H309.5" fill="none" stroke="#40e0d0" stroke-width="1"/>
<path d="M314.1 142.8L321.1 142.8L317.6 148.7Z" fill="none" stroke="#40e0d0" stroke-width="0.9"/><path d="M314.2 145.4H321.0" fill="none" stroke="#40e0d0" stroke-width="1"/>
<path d="M246.4 205.9L246.4 212.9L252.3 209.4Z" fill="none" stroke="#ff00ff" stroke-width="0.9"/><path d="M245.6 209.4H252.4" fill="none" stroke="#ff00ff" stroke-width="1"/>
<path d="M275.9 183.9L275.9 190.9L281.8 187.4Z" fill="none" stroke="#ff00ff" stroke-width="0.9"/><path d="M275.1 187.4H281.9" fill="none" stroke="#ff00ff" stroke-width="1"/>
<path d="M287.7 172.7L287.7 179.7L293.6 176.2Z" fill="none" stroke="#ff00ff" stroke-width="0.9"/><path d="M286.9 176.2H293.7" fill="none" stroke="#ff00ff" stroke-width="1"/>
<path d="M296.6 163.7L296.6 170.7L302.5 167.2Z" fill="none" stroke="#ff00ff" stroke-width="0.9"/><path d="M295.8 167.2H302.6" fill="none" stroke="#ff00ff" stroke-width="1"/>
<path d="M305.5 155.1L305.5 162.1L311.4 158.6Z" fill="none" stroke="#ff00ff" stroke-width="0.9"/><path d="M304.7 158.6H311.5" fill="none" stroke="#ff00ff" stroke-width="1"/>
<path d="M320.2 136.5L320.2 143.5L326.1 140.0Z" fill="none" stroke="#ff00ff" stroke-width="0.9"/><path d="M319.4 140.0H326.2" fill="none" stroke="#ff00ff" stroke-width="1"/>
<path d="M224.4 222.2H231.2" fill="none" stroke="#9400d3" stroke-width="1.7"/><path d="M227.8 218.8V225.6" fill="none" stroke="#9400d3" stroke-width="1.1"/><path d="M224.4 222.2H231.2" fill="none" stroke="#9400d3" stroke-width="1"/>
<path d="M266.4 193.7H273.2" fill="none" stroke="#9400d3" stroke-width="1.7"/><path d="M269.8 190.3V197.1" fill="none" stroke="#9400d3" stroke-width="1.1"/><path d="M266.4 193.7H273.2" fill="none" stroke="#9400d3" stroke-width="1"/>
<path d="M283.2 177.2H290.0" fill="none" stroke="#9400d3" stroke-width="1.7"/><path d="M286.6 173.8V180.6" fill="none" stroke="#9400d3" stroke-width="1.1"/><path d="M283.2 177.2H290.0" fill="none" stroke="#9400d3" stroke-width="1"/>
<path d="M295.8 166.1H302.6" fill="none" stroke="#9400d3" stroke-width="1.7"/><path d="M299.2 162.7V169.5" fill="none" stroke="#9400d3" stroke-width="1.1"/><path d="M295.8 166.1H302.6" fill="none" stroke="#9400d3" stroke-width="1"/>
<path d="M308.4 151.4H315.2" fill="none" stroke="#9400d3" stroke-width="1.7"/><path d="M311.8 148.0V154.8" fill="none" stroke="#9400d3" stroke-width="1.1"/><path d="M308.4 151.4H315.2" fill="none" stroke="#9400d3" stroke-width="1"/>
<path d="M329.4 121.8H336.2" fill="none" stroke="#9400d3" stroke-width="1.7"/><path d="M332.8 118.4V125.2" fill="none" stroke="#9400d3" stroke-width="1.1"/><path d="M329.4 121.8H336.2" fill="none" stroke="#9400d3" stroke-width="1"/>
<path d="M48.05 227.3V0.75H373.0" stroke="#484848" stroke-width="1.3" fill="none"/>
<path d="M373.0 0.75V227.9" stroke="#777" stroke-width="1.4" fill="none"/>
<path d="M47.449999999999996 227.3H373.0 M48.05 114.5H373.0 M210.5 0.75V227.3" stroke="#222" stroke-width="1.25" fill="none"/>
<path d="M48.05 114.1h3.2M48.05 100.3h6.5M48.05 86.5h3.2M48.05 72.6h6.5M48.05 58.8h3.2M48.05 45.0h6.5M48.05 31.1h3.2M48.05 17.3h6.5M48.05 3.5h3.2M48.05 211.1h3.2M48.05 193.4h6.5M48.05 175.7h3.2M48.05 158.0h6.5M48.05 140.3h3.2M48.05 122.6h6.5M53.9 114.5v-6.5M84.5 114.5v-3.2M114.5 114.5v-6.5M144.4 114.5v-3.2M174.4 114.5v-6.5M204.4 114.5v-3.2M225.3 114.5v-3.2M240.1 114.5v-6.5M254.9 114.5v-3.2M269.6 114.5v-6.5M284.4 114.5v-3.2M299.2 114.5v-6.5M314.0 114.5v-3.2M328.8 114.5v-6.5M343.5 114.5v-3.2M358.3 114.5v-6.5M53.9 227.3v-6.5M84.5 227.3v-3.2M114.5 227.3v-6.5M144.4 227.3v-3.2M174.4 227.3v-6.5M204.4 227.3v-3.2M225.3 227.3v-3.2M240.1 227.3v-6.5M254.9 227.3v-3.2M269.6 227.3v-6.5M284.4 227.3v-3.2M299.2 227.3v-6.5M314.0 227.3v-3.2M328.8 227.3v-6.5M343.5 227.3v-3.2M358.3 227.3v-6.5" stroke="#222" stroke-width="1.0" fill="none"/>
<text x="45.6" y="21.8" font-size="13.8" text-anchor="end" font-family="Liberation Serif, serif" fill="#111" >0.4</text>
<text x="45.6" y="49.7" font-size="13.8" text-anchor="end" font-family="Liberation Serif, serif" fill="#111" >0.3</text>
<text x="45.6" y="77.3" font-size="13.8" text-anchor="end" font-family="Liberation Serif, serif" fill="#111" >0.2</text>
<text x="45.6" y="104.8" font-size="13.8" text-anchor="end" font-family="Liberation Serif, serif" fill="#111" >0.1</text>
<text x="45.6" y="127.1" font-size="13.8" text-anchor="end" font-family="Liberation Serif, serif" fill="#111" >0.25</text>
<text x="45.6" y="162.5" font-size="13.8" text-anchor="end" font-family="Liberation Serif, serif" fill="#111" >0.2</text>
<text x="45.6" y="197.9" font-size="13.8" text-anchor="end" font-family="Liberation Serif, serif" fill="#111" >0.15</text>
<text x="54.5" y="240.6" font-size="13.8" text-anchor="middle" font-family="Liberation Serif, serif" fill="#111" >0.246</text>
<text x="114.45" y="240.6" font-size="13.8" text-anchor="middle" font-family="Liberation Serif, serif" fill="#111" >0.247</text>
<text x="174.45" y="240.6" font-size="13.8" text-anchor="middle" font-family="Liberation Serif, serif" fill="#111" >0.248</text>
<text x="240.0" y="240.6" font-size="13.8" text-anchor="middle" font-family="Liberation Serif, serif" fill="#111" >-0.2</text>
<text x="269.6" y="240.6" font-size="13.8" text-anchor="middle" font-family="Liberation Serif, serif" fill="#111" >-0.1</text>
<text x="299.2" y="240.6" font-size="13.8" text-anchor="middle" font-family="Liberation Serif, serif" fill="#111" >0</text>
<text x="328.75" y="240.6" font-size="13.8" text-anchor="middle" font-family="Liberation Serif, serif" fill="#111" >0.1</text>
<text x="358.3" y="240.6" font-size="13.8" text-anchor="middle" font-family="Liberation Serif, serif" fill="#111" >0.2</text>
<text x="129.8" y="258.6" font-size="13.8" text-anchor="middle" font-family="Liberation Serif, serif" fill="#111" >K</text>
<text x="69.5" y="17.0" font-size="13.8" text-anchor="middle" font-family="Liberation Serif, serif" fill="#111" font-weight="bold">A</text>
<text x="231.2" y="17.0" font-size="13.8" text-anchor="middle" font-family="Liberation Serif, serif" fill="#111" font-weight="bold">B</text>
<text x="69.0" y="130.5" font-size="13.8" text-anchor="middle" font-family="Liberation Serif, serif" fill="#111" font-weight="bold">C</text>
<text x="231.5" y="130.8" font-size="13.8" text-anchor="middle" font-family="Liberation Serif, serif" fill="#111" font-weight="bold">D</text>
<text x="278.2" y="256.9" font-size="14.0" font-family="Liberation Serif, serif" fill="#111">L<tspan dy="-6.5" font-size="9.5" dx="1.5">1/ν</tspan><tspan dy="6.5" font-size="14.0" dx="0.3">k</tspan></text>
<text transform="translate(25.6,65.0) rotate(-90)" font-size="14.5" font-family="Liberation Serif, serif" fill="#111">Φ<tspan dy="-6.2" font-size="11">*</tspan></text>
<text transform="translate(16.5,187.2) rotate(-90)" font-size="14.5" font-family="Liberation Serif, serif" fill="#111"><tspan dy="-1.6">χ</tspan><tspan dy="1.6">/L</tspan><tspan dy="-8" font-size="10.5" dx="0.3">2-η</tspan></text>
<circle cx="339.5" cy="20.8" r="3.3" fill="none" stroke="#000000" stroke-width="0.9"/>
<text x="345.9" y="24.6" font-size="11.4" text-anchor="start" font-family="Liberation Serif, serif" fill="#111" >L=8</text>
<rect x="336.4" y="28.7" width="6.2" height="6.2" fill="none" stroke="#ff0000" stroke-width="0.9"/>
<text x="345.9" y="35.64" font-size="11.4" text-anchor="start" font-family="Liberation Serif, serif" fill="#111" >L=10</text>
<path d="M335.9 42.9L339.5 39.3L343.1 42.9L339.5 46.5Z" fill="none" stroke="#008b00" stroke-width="0.9"/>
<text x="345.9" y="46.67999999999999" font-size="11.4" text-anchor="start" font-family="Liberation Serif, serif" fill="#111" >L=12</text>
<path d="M336.0 56.5L343.0 56.5L339.5 50.6Z" fill="none" stroke="#0000ff" stroke-width="0.9"/>
<text x="345.9" y="57.72" font-size="11.4" text-anchor="start" font-family="Liberation Serif, serif" fill="#111" >L=16</text>
<path d="M342.1 61.5L342.1 68.5L336.2 65.0Z" fill="none" stroke="#ffa500" stroke-width="0.9"/>
<text x="345.9" y="68.75999999999999" font-size="11.4" text-anchor="start" font-family="Liberation Serif, serif" fill="#111" >L=20</text>
<path d="M336.0 73.4L343.0 73.4L339.5 79.3Z" fill="none" stroke="#40e0d0" stroke-width="0.9"/>
<text x="345.9" y="79.8" font-size="11.4" text-anchor="start" font-family="Liberation Serif, serif" fill="#111" >L=30</text>
<path d="M336.9 83.5L336.9 90.5L342.8 87.0Z" fill="none" stroke="#ff00ff" stroke-width="0.9"/>
<text x="345.9" y="90.83999999999999" font-size="11.4" text-anchor="start" font-family="Liberation Serif, serif" fill="#111" >L=40</text>
<path d="M336.1 98.1H342.9" fill="none" stroke="#9400d3" stroke-width="1.1"/><path d="M339.5 94.7V101.5" fill="none" stroke="#9400d3" stroke-width="1.1"/>
<text x="345.9" y="101.88" font-size="11.4" text-anchor="start" font-family="Liberation Serif, serif" fill="#111" >L=60</text>
</svg></body></html>
